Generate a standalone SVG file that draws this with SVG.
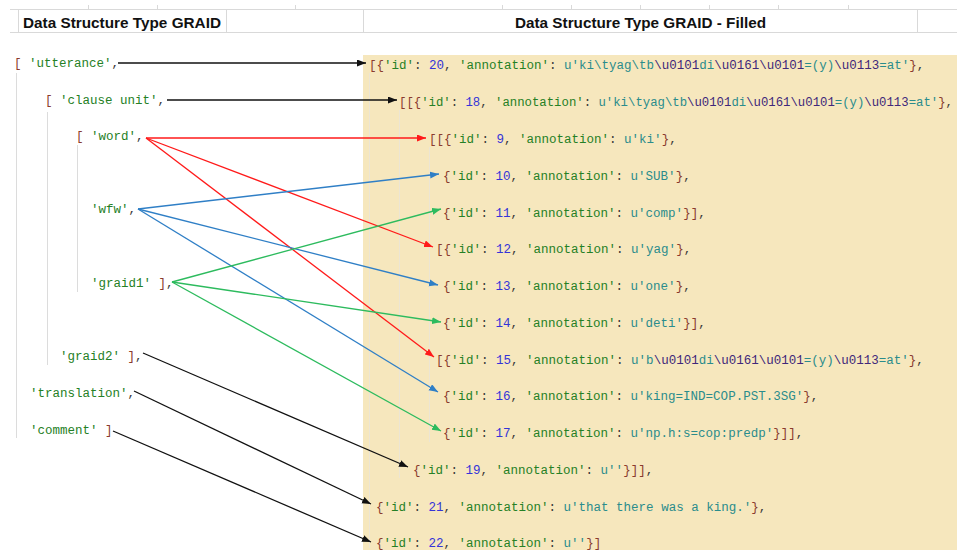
<svg xmlns="http://www.w3.org/2000/svg" width="957" height="550" viewBox="0 0 957 550" xml:space="preserve">
<style>
text{white-space:pre}
.h{font-family:"Liberation Sans",Arial,sans-serif;font-weight:bold;font-size:15px;fill:#111}
.m{font-family:"Liberation Mono","Courier New",monospace;font-size:12.5px}
.p{fill:#8a3b2e}
.c{fill:#3a3a3a}
.k{fill:#258025}
.n{fill:#3434d8}
.s{fill:#2a8c8c}
.e{fill:#40287a}
.grid{stroke:#d9d9d9;stroke-width:1;fill:none}
.guide{stroke:#dcdcdc;stroke-width:1}
.guide2{stroke:#ece5d3;stroke-width:1}
.ln{fill:none;stroke-width:1.3}
</style>
<defs>
<marker id="ak" markerUnits="userSpaceOnUse" markerWidth="10" markerHeight="8" refX="9" refY="3.5" orient="auto"><path d="M0,0 L9,3.5 L0,7 z" fill="#111"/></marker>
<marker id="ar" markerUnits="userSpaceOnUse" markerWidth="10" markerHeight="8" refX="9" refY="3.5" orient="auto"><path d="M0,0 L9,3.5 L0,7 z" fill="#ff1a1a"/></marker>
<marker id="ab" markerUnits="userSpaceOnUse" markerWidth="10" markerHeight="8" refX="9" refY="3.5" orient="auto"><path d="M0,0 L9,3.5 L0,7 z" fill="#2f7fc6"/></marker>
<marker id="ag" markerUnits="userSpaceOnUse" markerWidth="10" markerHeight="8" refX="9" refY="3.5" orient="auto"><path d="M0,0 L9,3.5 L0,7 z" fill="#2dbb5e"/></marker>
</defs>
<rect width="957" height="550" fill="#ffffff"/>
<rect x="363" y="55" width="594" height="495" fill="#f6e7bd"/>
<g id="grid">
<path class="grid" d="M10,9.5H957M10,32.5H957M18.5,9V33M226.5,9V33M363.5,9V33M917.5,9V33"/>
<path class="grid" d="M88.5,5V9M157.5,5V9M295.5,5V9M502.5,5V9M571.5,5V9M640.5,5V9M709.5,5V9M778.5,5V9M848.5,5V9"/>
</g>
<g id="guides">
<path class="guide" d="M16.5,73V438M47.5,112V365M77.5,145V292"/>
<path class="guide2" d="M369.5,73V548M399.5,110V478M429.5,147V442"/>
</g>
<g id="header-left"><text class="h" x="23" y="28" textLength="198" lengthAdjust="spacingAndGlyphs">Data Structure Type GRAID</text></g>
<g id="header-right"><text class="h" x="515" y="28" textLength="251" lengthAdjust="spacingAndGlyphs">Data Structure Type GRAID - Filled</text></g>
<g id="n-utterance"><text class="m" x="14" y="67"><tspan class="p">[</tspan> <tspan class="k">'utterance'</tspan><tspan class="c">,</tspan></text></g>
<g id="n-clause"><text class="m" x="45" y="104"><tspan class="p">[</tspan> <tspan class="k">'clause unit'</tspan><tspan class="c">,</tspan></text></g>
<g id="n-word"><text class="m" x="76" y="140"><tspan class="p">[</tspan> <tspan class="k">'word'</tspan><tspan class="c">,</tspan></text></g>
<g id="n-wfw"><text class="m" x="91" y="213"><tspan class="k">'wfw'</tspan><tspan class="c">,</tspan></text></g>
<g id="n-graid1"><text class="m" x="91" y="287"><tspan class="k">'graid1'</tspan> <tspan class="p">]</tspan><tspan class="c">,</tspan></text></g>
<g id="n-graid2"><text class="m" x="60" y="360"><tspan class="k">'graid2'</tspan> <tspan class="p">]</tspan><tspan class="c">,</tspan></text></g>
<g id="n-translation"><text class="m" x="30" y="397"><tspan class="k">'translation'</tspan><tspan class="c">,</tspan></text></g>
<g id="n-comment"><text class="m" x="30" y="434"><tspan class="k">'comment'</tspan> <tspan class="p">]</tspan></text></g>
<g id="r-20"><text class="m" x="369" y="69"><tspan class="p">[{</tspan><tspan class="k">'id'</tspan><tspan class="c">: </tspan><tspan class="n">20</tspan><tspan class="c">, </tspan><tspan class="k">'annotation'</tspan><tspan class="c">: </tspan><tspan class="s">u'ki\tyag\tb</tspan><tspan class="e">\u0101</tspan><tspan class="s">di</tspan><tspan class="e">\u0161\u0101</tspan><tspan class="s">=(y)</tspan><tspan class="e">\u0113</tspan><tspan class="s">=at'</tspan><tspan class="p">}</tspan><tspan class="c">,</tspan></text></g>
<g id="r-18"><text class="m" x="399" y="106" textLength="554" lengthAdjust="spacingAndGlyphs"><tspan class="p">[[{</tspan><tspan class="k">'id'</tspan><tspan class="c">: </tspan><tspan class="n">18</tspan><tspan class="c">, </tspan><tspan class="k">'annotation'</tspan><tspan class="c">: </tspan><tspan class="s">u'ki\tyag\tb</tspan><tspan class="e">\u0101</tspan><tspan class="s">di</tspan><tspan class="e">\u0161\u0101</tspan><tspan class="s">=(y)</tspan><tspan class="e">\u0113</tspan><tspan class="s">=at'</tspan><tspan class="p">}</tspan><tspan class="c">,</tspan></text></g>
<g id="r-9"><text class="m" x="429" y="143"><tspan class="p">[[{</tspan><tspan class="k">'id'</tspan><tspan class="c">: </tspan><tspan class="n">9</tspan><tspan class="c">, </tspan><tspan class="k">'annotation'</tspan><tspan class="c">: </tspan><tspan class="s">u'ki'</tspan><tspan class="p">}</tspan><tspan class="c">,</tspan></text></g>
<g id="r-10"><text class="m" x="443" y="180"><tspan class="p">{</tspan><tspan class="k">'id'</tspan><tspan class="c">: </tspan><tspan class="n">10</tspan><tspan class="c">, </tspan><tspan class="k">'annotation'</tspan><tspan class="c">: </tspan><tspan class="s">u'SUB'</tspan><tspan class="p">}</tspan><tspan class="c">,</tspan></text></g>
<g id="r-11"><text class="m" x="443" y="217"><tspan class="p">{</tspan><tspan class="k">'id'</tspan><tspan class="c">: </tspan><tspan class="n">11</tspan><tspan class="c">, </tspan><tspan class="k">'annotation'</tspan><tspan class="c">: </tspan><tspan class="s">u'comp'</tspan><tspan class="p">}]</tspan><tspan class="c">,</tspan></text></g>
<g id="r-12"><text class="m" x="436" y="253"><tspan class="p">[{</tspan><tspan class="k">'id'</tspan><tspan class="c">: </tspan><tspan class="n">12</tspan><tspan class="c">, </tspan><tspan class="k">'annotation'</tspan><tspan class="c">: </tspan><tspan class="s">u'yag'</tspan><tspan class="p">}</tspan><tspan class="c">,</tspan></text></g>
<g id="r-13"><text class="m" x="443" y="290"><tspan class="p">{</tspan><tspan class="k">'id'</tspan><tspan class="c">: </tspan><tspan class="n">13</tspan><tspan class="c">, </tspan><tspan class="k">'annotation'</tspan><tspan class="c">: </tspan><tspan class="s">u'one'</tspan><tspan class="p">}</tspan><tspan class="c">,</tspan></text></g>
<g id="r-14"><text class="m" x="443" y="327"><tspan class="p">{</tspan><tspan class="k">'id'</tspan><tspan class="c">: </tspan><tspan class="n">14</tspan><tspan class="c">, </tspan><tspan class="k">'annotation'</tspan><tspan class="c">: </tspan><tspan class="s">u'deti'</tspan><tspan class="p">}]</tspan><tspan class="c">,</tspan></text></g>
<g id="r-15"><text class="m" x="436" y="364"><tspan class="p">[{</tspan><tspan class="k">'id'</tspan><tspan class="c">: </tspan><tspan class="n">15</tspan><tspan class="c">, </tspan><tspan class="k">'annotation'</tspan><tspan class="c">: </tspan><tspan class="s">u'b</tspan><tspan class="e">\u0101</tspan><tspan class="s">di</tspan><tspan class="e">\u0161\u0101</tspan><tspan class="s">=(y)</tspan><tspan class="e">\u0113</tspan><tspan class="s">=at'</tspan><tspan class="p">}</tspan><tspan class="c">,</tspan></text></g>
<g id="r-16"><text class="m" x="443" y="400"><tspan class="p">{</tspan><tspan class="k">'id'</tspan><tspan class="c">: </tspan><tspan class="n">16</tspan><tspan class="c">, </tspan><tspan class="k">'annotation'</tspan><tspan class="c">: </tspan><tspan class="s">u'king=IND=COP.PST.3SG'</tspan><tspan class="p">}</tspan><tspan class="c">,</tspan></text></g>
<g id="r-17"><text class="m" x="443" y="437"><tspan class="p">{</tspan><tspan class="k">'id'</tspan><tspan class="c">: </tspan><tspan class="n">17</tspan><tspan class="c">, </tspan><tspan class="k">'annotation'</tspan><tspan class="c">: </tspan><tspan class="s">u'np.h:s=cop:predp'</tspan><tspan class="p">}]]</tspan><tspan class="c">,</tspan></text></g>
<g id="r-19"><text class="m" x="413" y="474"><tspan class="p">{</tspan><tspan class="k">'id'</tspan><tspan class="c">: </tspan><tspan class="n">19</tspan><tspan class="c">, </tspan><tspan class="k">'annotation'</tspan><tspan class="c">: </tspan><tspan class="s">u''</tspan><tspan class="p">}]]</tspan><tspan class="c">,</tspan></text></g>
<g id="r-21"><text class="m" x="376" y="511"><tspan class="p">{</tspan><tspan class="k">'id'</tspan><tspan class="c">: </tspan><tspan class="n">21</tspan><tspan class="c">, </tspan><tspan class="k">'annotation'</tspan><tspan class="c">: </tspan><tspan class="s">u'that there was a king.'</tspan><tspan class="p">}</tspan><tspan class="c">,</tspan></text></g>
<g id="r-22"><text class="m" x="376" y="547"><tspan class="p">{</tspan><tspan class="k">'id'</tspan><tspan class="c">: </tspan><tspan class="n">22</tspan><tspan class="c">, </tspan><tspan class="k">'annotation'</tspan><tspan class="c">: </tspan><tspan class="s">u''</tspan><tspan class="p">}]</tspan></text></g>
<g id="connectors">
<line class="ln" stroke="#111" marker-end="url(#ak)" x1="118" y1="63" x2="366" y2="63"/>
<line class="ln" stroke="#111" marker-end="url(#ak)" x1="167" y1="100" x2="397" y2="100"/>
<line class="ln" stroke="#ff1a1a" marker-end="url(#ar)" x1="146" y1="138" x2="426" y2="138"/>
<line class="ln" stroke="#ff1a1a" marker-end="url(#ar)" x1="146" y1="138" x2="433" y2="247"/>
<line class="ln" stroke="#ff1a1a" marker-end="url(#ar)" x1="146" y1="138" x2="434" y2="357"/>
<line class="ln" stroke="#2f7fc6" marker-end="url(#ab)" x1="138" y1="209" x2="439" y2="174"/>
<line class="ln" stroke="#2f7fc6" marker-end="url(#ab)" x1="138" y1="209" x2="438" y2="285"/>
<line class="ln" stroke="#2f7fc6" marker-end="url(#ab)" x1="138" y1="209" x2="438" y2="392"/>
<line class="ln" stroke="#2dbb5e" marker-end="url(#ag)" x1="172" y1="282" x2="441" y2="209"/>
<line class="ln" stroke="#2dbb5e" marker-end="url(#ag)" x1="172" y1="282" x2="441" y2="322"/>
<line class="ln" stroke="#2dbb5e" marker-end="url(#ag)" x1="172" y1="282" x2="441" y2="431"/>
<line class="ln" stroke="#111" marker-end="url(#ak)" x1="143" y1="353" x2="408" y2="467"/>
<line class="ln" stroke="#111" marker-end="url(#ak)" x1="134" y1="391" x2="371" y2="504"/>
<line class="ln" stroke="#111" marker-end="url(#ak)" x1="113" y1="431" x2="371" y2="542"/>
</g>
</svg>
